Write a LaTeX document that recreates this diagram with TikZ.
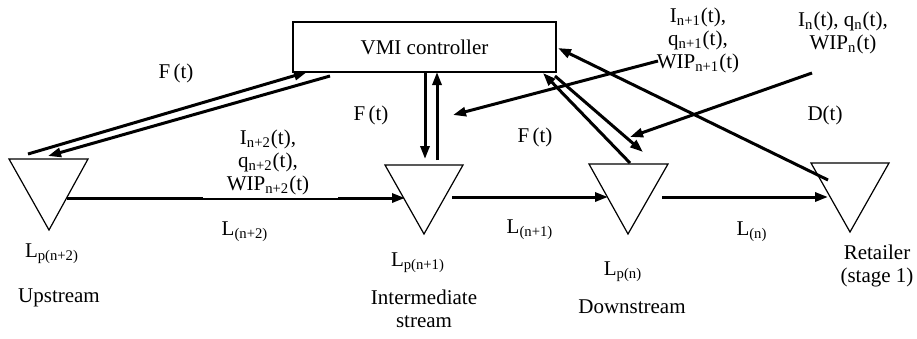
\documentclass[tikz,border=0pt]{standalone}
\usepackage{fontspec}
\setmainfont{Liberation Serif}
\usetikzlibrary{arrows.meta}
\begin{document}
\begin{tikzpicture}[x=0.5pt,y=-0.5pt,
  lbl/.style={inner sep=0pt,font=\fontsize{10.5}{11.5}\selectfont,align=center},
  flow/.style={line width=1.5pt,-{Triangle[length=6.5pt,width=4.5pt]}},
  tri/.style={draw,line width=0.6pt,fill=white},
  box/.style={draw,line width=0.6pt}]
\useasboundingbox (0,0) rectangle (917,338);
% VMI controller
\node[box,minimum width=131.5pt,minimum height=25pt,inner sep=0pt,font=\fontsize{10.5}{11.5}\selectfont] (vmi) at (424.5,47) {VMI controller};
% triangles
\draw[tri] (9,159) -- (88,159) -- (49,230) -- cycle;
\draw[tri] (385,165) -- (463,165) -- (424,234) -- cycle;
\draw[tri] (589,164) -- (668,164) -- (628,234) -- cycle;
\draw[tri] (811,163) -- (889,163) -- (850,232) -- cycle;
% coordinates
\coordinate (upOut) at (28,154);
\coordinate (boxIn1) at (307,72);
\coordinate (boxOut1) at (330,76);
\coordinate (upIn) at (48,156);
\coordinate (boxOut2) at (425,72);
\coordinate (midIn) at (425,159);
\coordinate (midOut) at (437,160);
\coordinate (boxIn2) at (437,72);
\coordinate (infoA) at (658,61);
\coordinate (midIn2) at (453,115);
\coordinate (infoB) at (812,73);
\coordinate (downIn) at (630,137);
\coordinate (boxOut3) at (555,76);
\coordinate (downIn2) at (643,152);
\coordinate (downOut) at (630,163);
\coordinate (boxIn3) at (543,73);
\coordinate (retOut) at (828,180);
\coordinate (boxIn4) at (558,48);
\coordinate (upR) at (67,198);
\coordinate (midL) at (405,198);
\coordinate (midR) at (452,197);
\coordinate (downL) at (608,197);
\coordinate (downR) at (662,197);
\coordinate (retL) at (828,197);
% connectors
\draw[flow] (upOut) -- (boxIn1);
\draw[flow] (boxOut1) -- (upIn);
\draw[flow] (boxOut2) -- (midIn);
\draw[flow] (midOut) -- (boxIn2);
\draw[flow] (infoA) -- (midIn2);
\draw[flow] (infoB) -- (downIn);
\draw[flow] (boxOut3) -- (downIn2);
\draw[flow] (downOut) -- (boxIn3);
\draw[flow] (retOut) -- (boxIn4);
\draw[flow] (upR) -- (midL);
\fill[white] (203,190) rectangle (338,197.6);
\draw[flow] (midR) -- (downL);
\draw[flow] (downR) -- (retL);
% labels
\node[lbl] (f1) at (176,73) {F\,(t)};
\node[lbl] (f2) at (371,115) {F\,(t)};
\node[lbl] (f3) at (535,137) {F\,(t)};
\node[lbl] (d) at (825,115) {D(t)};
\node[lbl] (i2) at (268,162) {I\textsubscript{n+2}(t),\\q\textsubscript{n+2}(t),\\WIP\textsubscript{n+2}(t)};
\node[lbl] (i1) at (698,40) {I\textsubscript{n+1}(t),\\q\textsubscript{n+1}(t),\\WIP\textsubscript{n+1}(t)};
\node[lbl] (i0) at (843,33) {I\textsubscript{n}(t), q\textsubscript{n}(t),\\WIP\textsubscript{n}(t)};
\node[lbl] (l2) at (245,232) {L\textsubscript{(n+2)}};
\node[lbl] (l1) at (530,230) {L\textsubscript{(n+1)}};
\node[lbl] (l0) at (752,232) {L\textsubscript{(n)}};
\node[lbl] (lp2) at (52,254) {L\textsubscript{p(n+2)}};
\node[lbl] (lp1) at (418,263) {L\textsubscript{p(n+1)}};
\node[lbl] (lp0) at (623,272) {L\textsubscript{p(n)}};
\node[lbl] (s1) at (59,298) {Upstream};
\node[lbl] (s2) at (424,309) {Intermediate\\stream};
\node[lbl] (s3) at (632,307) {Downstream};
\node[lbl] (s4) at (877,266) {Retailer\\(stage 1)};
\end{tikzpicture}
\end{document}
